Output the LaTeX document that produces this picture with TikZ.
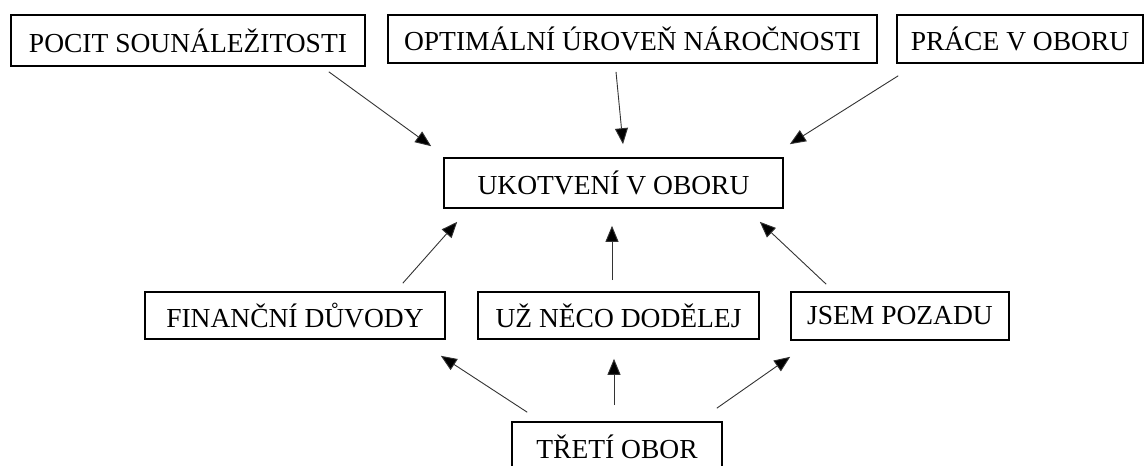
\documentclass[tikz,border=0pt]{standalone}
\usepackage{fontspec}
\setmainfont{Liberation Serif}
\usetikzlibrary{arrows.meta,calc}
\begin{document}
\begin{tikzpicture}[x=1pt,y=-1pt,
  box/.style={draw=black,line width=1.6pt,inner sep=0pt,
    font=\fontsize{27.5}{33}\selectfont},
  arr/.style={draw=black!80,line width=0.9pt,-{Triangle[length=16pt,width=13pt,fill=black]}}]
\useasboundingbox (0,0) rectangle (1144,466);
% upper row of factors
\node[box,minimum width=354pt,minimum height=51pt] (pocit) at (188,40.5) {POCIT SOUNÁLEŽITOSTI};
\node[box,minimum width=489pt,minimum height=48pt] (optim) at (632.5,39) {OPTIMÁLNÍ ÚROVEŇ NÁROČNOSTI};
\node[box,minimum width=246pt,minimum height=48pt] (prace) at (1020,39) {PRÁCE V OBORU};
% central node
\node[box,minimum width=339pt,minimum height=50pt] (ukot) at (613.5,183) {UKOTVENÍ V OBORU};
% lower row
\node[box,minimum width=300pt,minimum height=47pt] (fin) at (295,315.5) {FINANČNÍ DŮVODY};
\node[box,minimum width=281pt,minimum height=47pt] (uz) at (618.5,315.5) {UŽ NĚCO DODĚLEJ};
\node[box,minimum width=218pt,minimum height=48pt] (jsem) at (900,316) {JSEM POZADU};
% bottom node
\node[box,minimum width=210pt,minimum height=50pt] (treti) at (617,447) {TŘETÍ OBOR};
% connectors into the central node
\draw[arr] ($(pocit.south east)+(-37,5)$) -- ($(ukot.north west)+(-12,-11)$);
\draw[arr] ($(optim.south)+(-16.5,8)$) -- ($(ukot.north)+(9.5,-13)$);
\draw[arr] ($(prace.south west)+(2,12)$) -- ($(ukot.north east)+(6,-13)$);
\draw[arr] ($(fin.north east)+(-43,-8)$) -- ($(ukot.south west)+(14,13)$);
\draw[arr] ($(uz.north)+(-6.5,-11)$) -- ($(ukot.south)+(-1.5,17)$);
\draw[arr] ($(jsem.north west)+(36,-7)$) -- ($(ukot.south east)+(-24,13)$);
% connectors from the bottom node
\draw[arr] ($(treti.north west)+(16,-9)$) -- ($(fin.south east)+(-5,16)$);
\draw[arr] ($(treti.north)+(-3,-16)$) -- ($(uz.south)+(-4.5,19)$);
\draw[arr] ($(treti.north east)+(-6,-13)$) -- ($(jsem.south west)+(0,16)$);
\end{tikzpicture}
\end{document}
